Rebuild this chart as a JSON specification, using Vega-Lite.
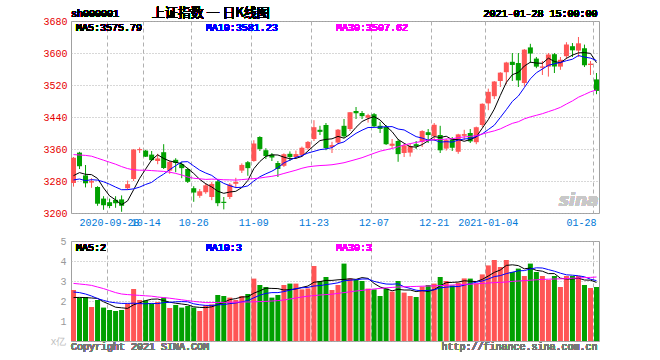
{
"$schema": "https://vega.github.io/schema/vega-lite/v6.json",
"background": "white",
"padding": {"left": 42, "top": 6, "right": 10, "bottom": 4},
"bounds": "flush",
"spacing": 28,
"data": {"values": [
{"d":"2020-09-18","o":3275,"h":3340,"l":3266,"c":3338.09,"v":2.55,"m5":3293.39,"m10":3282.58,"m30":3346,"vm5":2.17,"vm10":2.45,"vm30":2.88},
{"d":"2020-09-21","o":3351,"h":3353,"l":3310,"c":3316.94,"v":2.17,"m5":3301.01,"m10":3285.01,"m30":3345,"vm5":2.18,"vm10":2.42,"vm30":2.85},
{"d":"2020-09-22","o":3294,"h":3320,"l":3264,"c":3274.30,"v":2.2,"m5":3296.74,"m10":3280.80,"m30":3344,"vm5":2.17,"vm10":2.35,"vm30":2.82},
{"d":"2020-09-23","o":3276,"h":3287,"l":3263,"c":3279.71,"v":1.7,"m5":3295.90,"m10":3283.31,"m30":3342,"vm5":2.15,"vm10":2.25,"vm30":2.78},
{"d":"2020-09-24","o":3265,"h":3267,"l":3218,"c":3223.18,"v":2.05,"m5":3286.44,"m10":3282.14,"m30":3337,"vm5":2.13,"vm10":2.12,"vm30":2.7},
{"d":"2020-09-25","o":3236,"h":3242,"l":3208,"c":3219.42,"v":1.67,"m5":3262.71,"m10":3278.05,"m30":3332,"vm5":1.96,"vm10":2.03,"vm30":2.62},
{"d":"2020-09-28","o":3227,"h":3236,"l":3212,"c":3217.53,"v":1.55,"m5":3242.83,"m10":3271.92,"m30":3327,"vm5":1.83,"vm10":1.95,"vm30":2.52},
{"d":"2020-09-29","o":3233,"h":3242,"l":3213,"c":3224.36,"v":1.5,"m5":3232.84,"m10":3264.79,"m30":3322,"vm5":1.69,"vm10":1.91,"vm30":2.42},
{"d":"2020-09-30","o":3234,"h":3244,"l":3203,"c":3218.05,"v":1.55,"m5":3220.51,"m10":3258.20,"m30":3316,"vm5":1.66,"vm10":1.88,"vm30":2.35},
{"d":"2020-10-09","o":3262,"h":3281,"l":3258,"c":3272.08,"v":1.87,"m5":3230.29,"m10":3258.37,"m30":3311,"vm5":1.63,"vm10":1.88,"vm30":2.32},
{"d":"2020-10-12","o":3285,"h":3360,"l":3280,"c":3358.47,"v":2.6,"m5":3258.10,"m10":3260.40,"m30":3308,"vm5":1.81,"vm10":1.89,"vm30":2.3},
{"d":"2020-10-13","o":3357,"h":3364,"l":3350,"c":3359.75,"v":2.05,"m5":3286.54,"m10":3264.69,"m30":3307,"vm5":1.91,"vm10":1.87,"vm30":2.28},
{"d":"2020-10-14","o":3356,"h":3358,"l":3340,"c":3340.74,"v":2.03,"m5":3309.82,"m10":3271.33,"m30":3307,"vm5":2.02,"vm10":1.86,"vm30":2.26},
{"d":"2020-10-15","o":3346,"h":3355,"l":3330,"c":3332.18,"v":1.88,"m5":3332.64,"m10":3276.58,"m30":3306,"vm5":2.09,"vm10":1.88,"vm30":2.24},
{"d":"2020-10-16","o":3330,"h":3348,"l":3322,"c":3336.36,"v":1.95,"m5":3345.50,"m10":3287.89,"m30":3305,"vm5":2.10,"vm10":1.87,"vm30":2.2},
{"d":"2020-10-19","o":3352,"h":3372,"l":3310,"c":3312.50,"v":2.17,"m5":3336.31,"m10":3297.20,"m30":3304,"vm5":2.02,"vm10":1.92,"vm30":2.17},
{"d":"2020-10-20","o":3306,"h":3331,"l":3298,"c":3328.10,"v":1.65,"m5":3329.98,"m10":3308.26,"m30":3302,"vm5":1.94,"vm10":1.93,"vm30":2.14},
{"d":"2020-10-21","o":3333,"h":3337,"l":3302,"c":3325.03,"v":1.8,"m5":3326.83,"m10":3318.33,"m30":3299,"vm5":1.89,"vm10":1.96,"vm30":2.1},
{"d":"2020-10-22","o":3322,"h":3328,"l":3287,"c":3312.16,"v":1.67,"m5":3322.83,"m10":3327.74,"m30":3295,"vm5":1.85,"vm10":1.97,"vm30":2.06},
{"d":"2020-10-23","o":3310,"h":3313,"l":3275,"c":3278.00,"v":1.75,"m5":3311.16,"m10":3328.33,"m30":3290,"vm5":1.81,"vm10":1.96,"vm30":2.02},
{"d":"2020-10-26","o":3262,"h":3267,"l":3228,"c":3251.12,"v":1.67,"m5":3298.88,"m10":3317.59,"m30":3286.86,"vm5":1.71,"vm10":1.86,"vm30":1.98},
{"d":"2020-10-27","o":3243,"h":3260,"l":3238,"c":3254.32,"v":1.5,"m5":3284.13,"m10":3307.05,"m30":3285.58,"vm5":1.68,"vm10":1.81,"vm30":1.95},
{"d":"2020-10-28","o":3252,"h":3275,"l":3248,"c":3269.24,"v":1.78,"m5":3272.97,"m10":3299.90,"m30":3284.01,"vm5":1.67,"vm10":1.78,"vm30":1.92},
{"d":"2020-10-29","o":3240,"h":3278,"l":3232,"c":3272.74,"v":1.83,"m5":3265.08,"m10":3293.96,"m30":3284.61,"vm5":1.71,"vm10":1.78,"vm30":1.92},
{"d":"2020-10-30","o":3279,"h":3285,"l":3217,"c":3224.53,"v":2.3,"m5":3254.39,"m10":3282.77,"m30":3284.27,"vm5":1.82,"vm10":1.81,"vm30":1.93},
{"d":"2020-11-02","o":3228,"h":3240,"l":3209,"c":3225.12,"v":2.25,"m5":3249.19,"m10":3274.04,"m30":3283.10,"vm5":1.93,"vm10":1.82,"vm30":1.93},
{"d":"2020-11-03","o":3240,"h":3275,"l":3235,"c":3271.07,"v":2.17,"m5":3252.54,"m10":3268.33,"m30":3282.84,"vm5":2.07,"vm10":1.87,"vm30":1.94},
{"d":"2020-11-04","o":3273,"h":3288,"l":3262,"c":3277.44,"v":2.05,"m5":3254.18,"m10":3263.57,"m30":3282.23,"vm5":2.12,"vm10":1.90,"vm30":1.94},
{"d":"2020-11-05","o":3306,"h":3324,"l":3300,"c":3320.13,"v":2.25,"m5":3263.66,"m10":3264.37,"m30":3283.44,"vm5":2.20,"vm10":1.96,"vm30":1.95},
{"d":"2020-11-06","o":3327,"h":3330,"l":3293,"c":3312.16,"v":2.35,"m5":3281.18,"m10":3267.79,"m30":3284.83,"vm5":2.21,"vm10":2.02,"vm30":1.95},
{"d":"2020-11-09","o":3330,"h":3382,"l":3328,"c":3373.73,"v":3.12,"m5":3310.91,"m10":3280.05,"m30":3286.02,"vm5":2.39,"vm10":2.16,"vm30":1.96},
{"d":"2020-11-10","o":3390,"h":3392,"l":3355,"c":3360.15,"v":2.8,"m5":3328.72,"m10":3290.63,"m30":3287.46,"vm5":2.51,"vm10":2.29,"vm30":1.97},
{"d":"2020-11-11","o":3357,"h":3362,"l":3335,"c":3342.20,"v":2.7,"m5":3341.67,"m10":3297.93,"m30":3289.72,"vm5":2.64,"vm10":2.38,"vm30":1.98},
{"d":"2020-11-12","o":3346,"h":3350,"l":3330,"c":3338.68,"v":2.17,"m5":3345.38,"m10":3304.52,"m30":3291.68,"vm5":2.63,"vm10":2.42,"vm30":2.0},
{"d":"2020-11-13","o":3325,"h":3330,"l":3290,"c":3310.10,"v":2.3,"m5":3344.97,"m10":3313.08,"m30":3294.58,"vm5":2.62,"vm10":2.42,"vm30":2.02},
{"d":"2020-11-16","o":3318,"h":3349,"l":3315,"c":3346.97,"v":2.8,"m5":3339.62,"m10":3325.26,"m30":3298.83,"vm5":2.55,"vm10":2.47,"vm30":2.05},
{"d":"2020-11-17","o":3348,"h":3354,"l":3330,"c":3339.90,"v":2.87,"m5":3335.57,"m10":3332.15,"m30":3302.91,"vm5":2.57,"vm10":2.54,"vm30":2.1},
{"d":"2020-11-18","o":3340,"h":3356,"l":3336,"c":3347.30,"v":2.87,"m5":3336.59,"m10":3339.13,"m30":3307.01,"vm5":2.60,"vm10":2.62,"vm30":2.15},
{"d":"2020-11-19","o":3345,"h":3366,"l":3340,"c":3363.09,"v":2.58,"m5":3341.47,"m10":3343.43,"m30":3311.85,"vm5":2.68,"vm10":2.66,"vm30":2.2},
{"d":"2020-11-20","o":3362,"h":3380,"l":3358,"c":3377.73,"v":2.63,"m5":3355.00,"m10":3349.99,"m30":3315.37,"vm5":2.75,"vm10":2.68,"vm30":2.24},
{"d":"2020-11-23","o":3385,"h":3432,"l":3380,"c":3414.49,"v":3.75,"m5":3368.50,"m10":3354.06,"m30":3317.23,"vm5":2.94,"vm10":2.75,"vm30":2.27},
{"d":"2020-11-24","o":3408,"h":3418,"l":3395,"c":3402.82,"v":3.0,"m5":3381.09,"m10":3358.33,"m30":3318.67,"vm5":2.97,"vm10":2.77,"vm30":2.3},
{"d":"2020-11-25","o":3420,"h":3425,"l":3357,"c":3362.33,"v":3.2,"m5":3384.09,"m10":3360.34,"m30":3319.39,"vm5":3.03,"vm10":2.82,"vm30":2.32},
{"d":"2020-11-26","o":3365,"h":3378,"l":3350,"c":3369.73,"v":2.55,"m5":3385.42,"m10":3363.45,"m30":3320.64,"vm5":3.03,"vm10":2.86,"vm30":2.34},
{"d":"2020-11-27","o":3376,"h":3410,"l":3372,"c":3408.31,"v":2.8,"m5":3391.54,"m10":3373.27,"m30":3323.04,"vm5":3.06,"vm10":2.91,"vm30":2.38},
{"d":"2020-11-30","o":3418,"h":3435,"l":3388,"c":3391.76,"v":3.87,"m5":3386.99,"m10":3377.75,"m30":3325.68,"vm5":3.08,"vm10":3.01,"vm30":2.42},
{"d":"2020-12-01","o":3410,"h":3452,"l":3405,"c":3451.94,"v":3.13,"m5":3396.81,"m10":3388.95,"m30":3329.81,"vm5":3.11,"vm10":3.04,"vm30":2.46},
{"d":"2020-12-02","o":3455,"h":3465,"l":3435,"c":3449.38,"v":3.05,"m5":3414.22,"m10":3399.16,"m30":3333.95,"vm5":3.08,"vm10":3.06,"vm30":2.5},
{"d":"2020-12-03","o":3450,"h":3455,"l":3435,"c":3442.14,"v":3.0,"m5":3428.71,"m10":3407.06,"m30":3338.29,"vm5":3.17,"vm10":3.10,"vm30":2.53},
{"d":"2020-12-04","o":3438,"h":3448,"l":3426,"c":3444.58,"v":2.62,"m5":3435.96,"m10":3413.75,"m30":3343.84,"vm5":3.13,"vm10":3.10,"vm30":2.57},
{"d":"2020-12-07","o":3447,"h":3450,"l":3415,"c":3416.60,"v":2.58,"m5":3440.93,"m10":3413.96,"m30":3349.36,"vm5":2.88,"vm10":2.98,"vm30":2.6},
{"d":"2020-12-08","o":3418,"h":3428,"l":3400,"c":3410.18,"v":2.25,"m5":3432.58,"m10":3414.70,"m30":3354.55,"vm5":2.70,"vm10":2.91,"vm30":2.63},
{"d":"2020-12-09","o":3415,"h":3420,"l":3370,"c":3371.96,"v":2.62,"m5":3417.09,"m10":3415.66,"m30":3357.98,"vm5":2.61,"vm10":2.85,"vm30":2.66},
{"d":"2020-12-10","o":3368,"h":3385,"l":3362,"c":3373.28,"v":2.47,"m5":3403.32,"m10":3416.01,"m30":3361.33,"vm5":2.51,"vm10":2.84,"vm30":2.68},
{"d":"2020-12-11","o":3380,"h":3385,"l":3328,"c":3347.19,"v":3.0,"m5":3383.84,"m10":3409.90,"m30":3365.42,"vm5":2.58,"vm10":2.86,"vm30":2.7},
{"d":"2020-12-14","o":3350,"h":3373,"l":3340,"c":3369.12,"v":2.42,"m5":3374.35,"m10":3407.64,"m30":3370.22,"vm5":2.55,"vm10":2.71,"vm30":2.71},
{"d":"2020-12-15","o":3351,"h":3373,"l":3341,"c":3367.23,"v":2.25,"m5":3365.76,"m10":3399.17,"m30":3373.42,"vm5":2.55,"vm10":2.63,"vm30":2.72},
{"d":"2020-12-16","o":3372,"h":3380,"l":3360,"c":3366.98,"v":2.2,"m5":3364.76,"m10":3390.93,"m30":3376.41,"vm5":2.47,"vm10":2.54,"vm30":2.73},
{"d":"2020-12-17","o":3378,"h":3407,"l":3365,"c":3404.87,"v":2.72,"m5":3371.08,"m10":3387.20,"m30":3379.23,"vm5":2.52,"vm10":2.51,"vm30":2.74},
{"d":"2020-12-18","o":3402,"h":3410,"l":3375,"c":3394.90,"v":2.8,"m5":3380.62,"m10":3382.23,"m30":3381.99,"vm5":2.48,"vm10":2.53,"vm30":2.75},
{"d":"2020-12-21","o":3392,"h":3425,"l":3380,"c":3420.57,"v":2.87,"m5":3390.91,"m10":3382.63,"m30":3383.55,"vm5":2.57,"vm10":2.56,"vm30":2.76},
{"d":"2020-12-22","o":3395,"h":3418,"l":3350,"c":3356.78,"v":3.2,"m5":3388.82,"m10":3377.29,"m30":3383.44,"vm5":2.76,"vm10":2.66,"vm30":2.77},
{"d":"2020-12-23","o":3361,"h":3386,"l":3356,"c":3382.32,"v":3.0,"m5":3391.89,"m10":3378.32,"m30":3384.77,"vm5":2.92,"vm10":2.69,"vm30":2.78},
{"d":"2020-12-24","o":3384,"h":3390,"l":3355,"c":3363.11,"v":2.78,"m5":3383.54,"m10":3377.31,"m30":3385.59,"vm5":2.93,"vm10":2.72,"vm30":2.8},
{"d":"2020-12-25","o":3353,"h":3398,"l":3348,"c":3396.56,"v":2.92,"m5":3383.87,"m10":3382.24,"m30":3388.47,"vm5":2.95,"vm10":2.72,"vm30":2.81},
{"d":"2020-12-28","o":3393,"h":3408,"l":3382,"c":3397.29,"v":3.13,"m5":3379.21,"m10":3385.06,"m30":3390.15,"vm5":3.01,"vm10":2.79,"vm30":2.83},
{"d":"2020-12-29","o":3400,"h":3410,"l":3375,"c":3379.04,"v":3.12,"m5":3383.66,"m10":3386.24,"m30":3391.45,"vm5":2.99,"vm10":2.87,"vm30":2.84},
{"d":"2020-12-30","o":3377,"h":3416,"l":3372,"c":3414.45,"v":2.88,"m5":3390.09,"m10":3390.99,"m30":3393.69,"vm5":2.97,"vm10":2.94,"vm30":2.86},
{"d":"2020-12-31","o":3420,"h":3474,"l":3415,"c":3473.07,"v":3.33,"m5":3412.08,"m10":3397.81,"m30":3397.36,"vm5":3.08,"vm10":3.00,"vm30":2.88},
{"d":"2021-01-04","o":3474,"h":3511,"l":3457,"c":3502.96,"v":3.78,"m5":3433.36,"m10":3408.62,"m30":3401.53,"vm5":3.25,"vm10":3.10,"vm30":2.9},
{"d":"2021-01-05","o":3492,"h":3530,"l":3485,"c":3528.68,"v":4.05,"m5":3459.64,"m10":3419.43,"m30":3405.34,"vm5":3.43,"vm10":3.22,"vm30":2.92},
{"d":"2021-01-06","o":3530,"h":3552,"l":3515,"c":3550.88,"v":3.7,"m5":3494.01,"m10":3438.84,"m30":3410.27,"vm5":3.55,"vm10":3.27,"vm30":2.93},
{"d":"2021-01-07","o":3552,"h":3578,"l":3522,"c":3576.20,"v":4.05,"m5":3526.36,"m10":3458.22,"m30":3417.40,"vm5":3.78,"vm10":3.37,"vm30":2.95},
{"d":"2021-01-08","o":3578,"h":3600,"l":3530,"c":3570.11,"v":3.45,"m5":3545.77,"m10":3478.92,"m30":3424.08,"vm5":3.81,"vm10":3.44,"vm30":2.98},
{"d":"2021-01-11","o":3575,"h":3600,"l":3515,"c":3531.50,"v":3.62,"m5":3551.47,"m10":3492.42,"m30":3428.19,"vm5":3.77,"vm10":3.51,"vm30":3.0},
{"d":"2021-01-12","o":3525,"h":3610,"l":3516,"c":3608.34,"v":3.25,"m5":3567.41,"m10":3513.52,"m30":3435.41,"vm5":3.61,"vm10":3.52,"vm30":3.02},
{"d":"2021-01-13","o":3614,"h":3623,"l":3575,"c":3598.65,"v":3.87,"m5":3576.96,"m10":3535.48,"m30":3440.30,"vm5":3.65,"vm10":3.60,"vm30":3.04},
{"d":"2021-01-14","o":3586,"h":3590,"l":3562,"c":3565.90,"v":3.45,"m5":3574.90,"m10":3550.63,"m30":3444.18,"vm5":3.53,"vm10":3.66,"vm30":3.06},
{"d":"2021-01-15","o":3563,"h":3580,"l":3545,"c":3566.38,"v":3.25,"m5":3574.15,"m10":3559.96,"m30":3448.32,"vm5":3.49,"vm10":3.65,"vm30":3.08},
{"d":"2021-01-18","o":3566,"h":3600,"l":3541,"c":3596.22,"v":3.05,"m5":3587.10,"m10":3569.29,"m30":3453.38,"vm5":3.37,"vm10":3.57,"vm30":3.09},
{"d":"2021-01-19","o":3597,"h":3600,"l":3550,"c":3566.28,"v":3.25,"m5":3578.69,"m10":3573.05,"m30":3458.37,"vm5":3.37,"vm10":3.49,"vm30":3.1},
{"d":"2021-01-20","o":3566,"h":3590,"l":3558,"c":3583.09,"v":2.7,"m5":3575.57,"m10":3576.27,"m30":3464.13,"vm5":3.14,"vm10":3.39,"vm30":3.11},
{"d":"2021-01-21","o":3592,"h":3627,"l":3585,"c":3621.26,"v":3.25,"m5":3586.65,"m10":3580.77,"m30":3472.44,"vm5":3.10,"vm10":3.31,"vm30":3.12},
{"d":"2021-01-22","o":3617,"h":3625,"l":3590,"c":3606.75,"v":3.25,"m5":3594.72,"m10":3584.44,"m30":3480.22,"vm5":3.10,"vm10":3.29,"vm30":3.14},
{"d":"2021-01-25","o":3606,"h":3640,"l":3590,"c":3624.24,"v":3.25,"m5":3600.32,"m10":3593.71,"m30":3489.46,"vm5":3.14,"vm10":3.26,"vm30":3.15},
{"d":"2021-01-26","o":3612,"h":3621,"l":3565,"c":3569.43,"v":2.8,"m5":3600.95,"m10":3589.82,"m30":3496.13,"vm5":3.05,"vm10":3.21,"vm30":3.17},
{"d":"2021-01-27","o":3570,"h":3580,"l":3545,"c":3573.34,"v":2.65,"m5":3599.00,"m10":3587.29,"m30":3503.01,"vm5":3.04,"vm10":3.09,"vm30":3.18},
{"d":"2021-01-28","o":3534,"h":3550,"l":3497,"c":3505.18,"v":2.7,"m5":3575.79,"m10":3581.22,"m30":3507.61,"vm5":2.93,"vm10":3.02,"vm30":3.2}
]},
"config": {
  "view": {"stroke": "#a0a0a0", "strokeWidth": 1},
  "axis": {"labelFont": "Liberation Mono", "labelFontSize": 10, "ticks": false, "domain": false, "grid": true, "gridColor": "#b0b0b0", "gridWidth": 1},
  "axisX": {"gridDash": [4, 3]},
  "axisY": {"gridDash": [1, 2]},
  "text": {"font": "Liberation Mono", "fontSize": 10, "baseline": "middle"}
},
"vconcat": [
{
  "width": 528, "height": 192,
  "layer": [
    {"mark": {"type": "rule", "strokeWidth": 1},
     "encoding": {
       "x": {"field": "d", "type": "ordinal", "title": null,
             "scale": {"type": "band", "paddingInner": 0.1667, "paddingOuter": 0},
             "axis": {"values": ["2020-09-28","2020-10-14","2020-10-26","2020-11-09","2020-11-23","2020-12-07","2020-12-21","2021-01-04","2021-01-28"],
                      "labelExpr": "(datum.value == '2020-09-28' || datum.value == '2021-01-04') ? datum.value : slice(datum.value, 5)",
                      "labelColor": "#0078d7", "labelAngle": 0, "labelPadding": 4, "labelOverlap": false, "bandPosition": 0,
                      "labelAlign": {"condition": {"test": "datum.value == '2021-01-28'", "value": "right"}, "value": "center"}}},
       "y": {"field": "l", "type": "quantitative", "title": null,
             "scale": {"domain": [3200, 3680], "zero": false, "nice": false},
             "axis": {"values": [3200, 3280, 3360, 3440, 3520, 3600, 3680], "tickCount": 20, "format": "d", "labelOverlap": false, "labelColor": "#e60000", "labelPadding": 4}},
       "y2": {"field": "h"},
       "color": {"condition": {"test": "datum.c >= datum.o", "value": "#ff5555"}, "value": "#00a000"}
     }},
    {"mark": {"type": "bar"},
     "encoding": {
       "x": {"field": "d", "type": "ordinal", "title": null},
       "y": {"field": "o", "type": "quantitative", "title": null},
       "y2": {"field": "c"},
       "color": {"condition": {"test": "datum.c >= datum.o", "value": "#ff5555"}, "value": "#00a000"}
     }},
    {"mark": {"type": "line", "color": "#000000", "strokeWidth": 1},
     "encoding": {"x": {"field": "d", "type": "ordinal", "title": null}, "y": {"field": "m5", "type": "quantitative", "title": null}}},
    {"mark": {"type": "line", "color": "#0000ff", "strokeWidth": 1},
     "encoding": {"x": {"field": "d", "type": "ordinal", "title": null}, "y": {"field": "m10", "type": "quantitative", "title": null}}},
    {"mark": {"type": "line", "color": "#ff00ff", "strokeWidth": 1},
     "encoding": {"x": {"field": "d", "type": "ordinal", "title": null}, "y": {"field": "m30", "type": "quantitative", "title": null}}},
    {"mark": {"type": "text", "align": "left", "dx": -2.5, "dy": -7, "color": "#000000"},
     "encoding": {"x": {"datum": "2020-09-18", "type": "ordinal", "title": null}, "y": {"datum": 3680, "type": "quantitative", "title": null}, "text": {"value": "sh000001"}}},
    {"mark": {"type": "text", "align": "left", "dx": 0, "dy": -8.5, "font": "Noto Sans CJK SC", "fontSize": 13, "color": "#000000"},
     "encoding": {"x": {"datum": "2020-10-15", "type": "ordinal", "title": null}, "y": {"datum": 3680, "type": "quantitative", "title": null}, "text": {"value": "上证指数 一 日K线图"}}},
    {"mark": {"type": "text", "align": "right", "dx": 1, "dy": -7, "color": "#000000"},
     "encoding": {"x": {"datum": "2021-01-28", "type": "ordinal", "title": null}, "y": {"datum": 3680, "type": "quantitative", "title": null}, "text": {"value": "2021-01-28 15:00:00"}}},
    {"mark": {"type": "text", "align": "left", "dx": 2.5, "dy": 6.5, "color": "#000000"},
     "encoding": {"x": {"datum": "2020-09-18", "type": "ordinal", "title": null}, "y": {"datum": 3680, "type": "quantitative", "title": null}, "text": {"value": "MA5:3575.79"}}},
    {"mark": {"type": "text", "align": "left", "dx": 0, "dy": 6.5, "color": "#0000ff"},
     "encoding": {"x": {"datum": "2020-10-28", "type": "ordinal", "title": null}, "y": {"datum": 3680, "type": "quantitative", "title": null}, "text": {"value": "MA10:3581.23"}}},
    {"mark": {"type": "text", "align": "left", "dx": -2, "dy": 6.5, "color": "#ff00ff"},
     "encoding": {"x": {"datum": "2020-11-27", "type": "ordinal", "title": null}, "y": {"datum": 3680, "type": "quantitative", "title": null}, "text": {"value": "MA30:3507.62"}}},
    {"mark": {"type": "text", "align": "right", "dx": 2, "dy": -12, "font": "DejaVu Sans", "fontSize": 17, "fontStyle": "italic", "fontWeight": "bold", "color": "#c8c8c8"},
     "encoding": {"x": {"datum": "2021-01-28", "type": "ordinal", "title": null}, "y": {"datum": 3200, "type": "quantitative", "title": null}, "text": {"value": "sina"}}}
  ]
},
{
  "width": 528, "height": 100,
  "layer": [
    {"mark": {"type": "bar"},
     "encoding": {
       "x": {"field": "d", "type": "ordinal", "title": null,
             "scale": {"type": "band", "paddingInner": 0.1667, "paddingOuter": 0},
             "axis": {"values": ["2020-09-28","2020-10-14","2020-10-26","2020-11-09","2020-11-23","2020-12-07","2020-12-21","2021-01-04","2021-01-28"],
                      "labels": false, "bandPosition": 0}},
       "y": {"field": "v", "type": "quantitative", "title": null,
             "scale": {"domain": [0, 5], "nice": false},
             "axis": {"values": [0, 1, 2, 3, 4, 5], "tickCount": 20, "format": "d", "labelPadding": 5, "labelOverlap": false,
                      "labelExpr": "datum.value == 0 ? 'x亿' : datum.label",
                      "labelColor": {"condition": {"test": "datum.value == 0", "value": "#c0c0c0"}, "value": "#999999"}}},
       "color": {"condition": {"test": "datum.c >= datum.o", "value": "#ff5555"}, "value": "#00a000"}
     }},
    {"mark": {"type": "line", "color": "#000000", "strokeWidth": 1},
     "encoding": {"x": {"field": "d", "type": "ordinal", "title": null}, "y": {"field": "vm5", "type": "quantitative", "title": null}}},
    {"mark": {"type": "line", "color": "#0000ff", "strokeWidth": 1},
     "encoding": {"x": {"field": "d", "type": "ordinal", "title": null}, "y": {"field": "vm10", "type": "quantitative", "title": null}}},
    {"mark": {"type": "line", "color": "#ff00ff", "strokeWidth": 1},
     "encoding": {"x": {"field": "d", "type": "ordinal", "title": null}, "y": {"field": "vm30", "type": "quantitative", "title": null}}},
    {"mark": {"type": "text", "align": "left", "dx": 2.5, "dy": 7, "color": "#000000"},
     "encoding": {"x": {"datum": "2020-09-18", "type": "ordinal", "title": null}, "y": {"datum": 5, "type": "quantitative", "title": null}, "text": {"value": "MA5:2"}}},
    {"mark": {"type": "text", "align": "left", "dx": 0, "dy": 7, "color": "#0000ff"},
     "encoding": {"x": {"datum": "2020-10-28", "type": "ordinal", "title": null}, "y": {"datum": 5, "type": "quantitative", "title": null}, "text": {"value": "MA10:3"}}},
    {"mark": {"type": "text", "align": "left", "dx": -2, "dy": 7, "color": "#ff00ff"},
     "encoding": {"x": {"datum": "2020-11-27", "type": "ordinal", "title": null}, "y": {"datum": 5, "type": "quantitative", "title": null}, "text": {"value": "MA30:3"}}},
    {"mark": {"type": "text", "align": "left", "dx": -2.5, "dy": 6, "color": "#777777"},
     "encoding": {"x": {"datum": "2020-09-18", "type": "ordinal", "title": null}, "y": {"datum": 0, "type": "quantitative", "title": null}, "text": {"value": "Copyright 2021 SINA.COM"}}},
    {"mark": {"type": "text", "align": "right", "dx": 1, "dy": 6, "color": "#777777"},
     "encoding": {"x": {"datum": "2021-01-28", "type": "ordinal", "title": null}, "y": {"datum": 0, "type": "quantitative", "title": null}, "text": {"value": "http://finance.sina.com.cn"}}}
  ]
}
]
}
